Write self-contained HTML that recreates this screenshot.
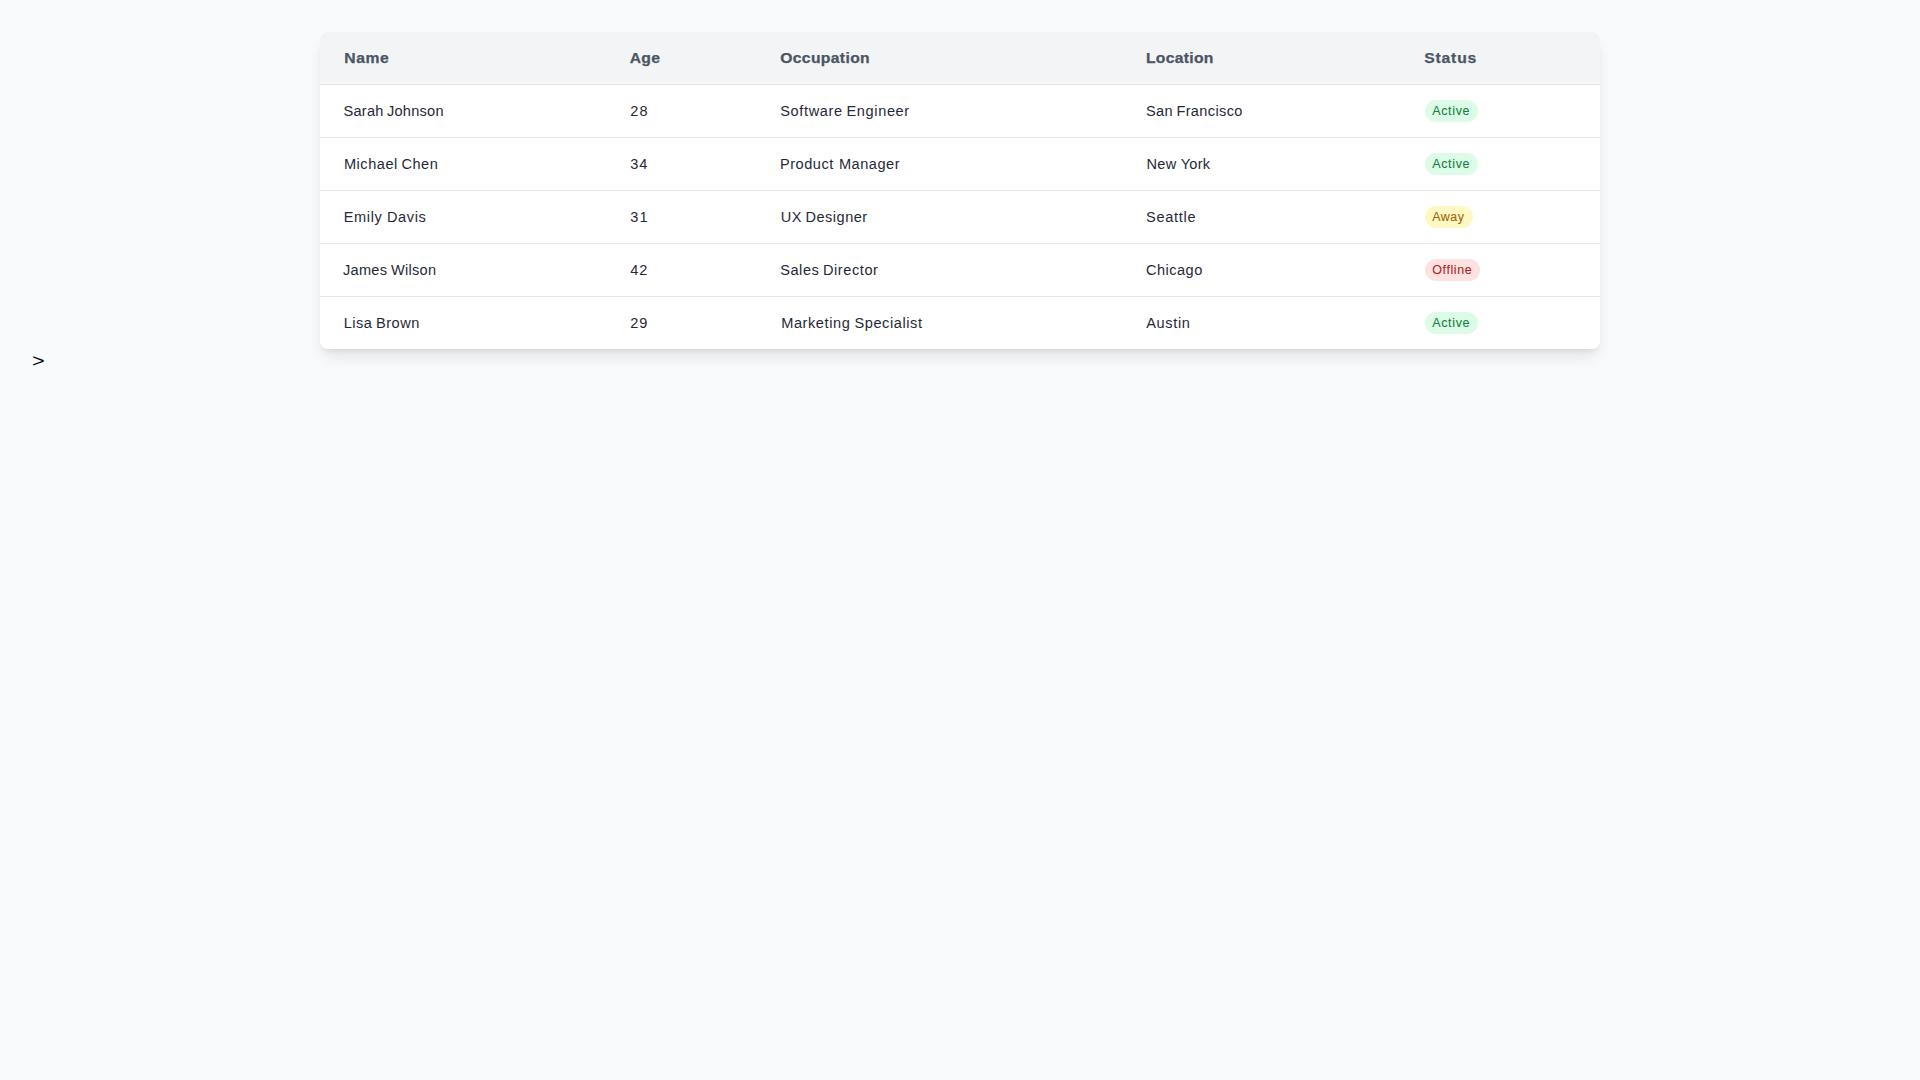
<!DOCTYPE html>
<html lang="en">
<head>
<meta charset="utf-8">
<title>Users</title>
<style>
*{box-sizing:border-box;margin:0;padding:0}
html{font-family:"Liberation Sans",sans-serif;line-height:1.5}
body{width:1920px;height:1080px;overflow:hidden;background:#f9fafb;padding:32px;font-family:"Liberation Sans",sans-serif;font-size:16px;color:#000}
.wrap{width:1280px;margin:0 auto}
.card{background:#fff;border-radius:8px;box-shadow:0 10px 15px -3px rgba(0,0,0,.1),0 4px 6px -4px rgba(0,0,0,.1);overflow:hidden}
table{width:1280px;border-collapse:separate;border-spacing:0;table-layout:fixed}
th{height:53px;padding:0 24px;background:#f3f4f6;border-bottom:1px solid #e5e7eb;text-align:left;vertical-align:middle;font-size:14px;line-height:20px;font-weight:700;color:#4b5563;white-space:nowrap}
td{height:52px;padding:0 24px;vertical-align:middle;font-size:14px;line-height:20px;color:#1f2937;white-space:nowrap}
tbody tr+tr td{height:53px;border-top:1px solid #e5e7eb}
.b{display:inline-block;height:22px;padding:0 0 0 8px;font-size:12px;line-height:22px;border-radius:11px;vertical-align:middle;overflow:hidden}
.g{background:#dcfce7;color:#15803d;width:53px}
.y{background:#fef9c3;color:#a16207;width:48px}
.r{background:#fee2e2;color:#b91c1c;width:55px}
.gt{display:block;height:24px;line-height:24px}
th>.t{display:inline-block;white-space:nowrap;transform-origin:0 50%;-webkit-text-stroke:0.25px currentColor}
td>.t{display:inline-block;white-space:nowrap;transform-origin:0 50%}
.b>.t{display:inline-block;white-space:nowrap;transform-origin:0 50%;-webkit-text-stroke:0.08px currentColor}
</style>
</head>
<body>
<div class="wrap">
<div class="card">
<table>
<colgroup>
<col style="width:286px">
<col style="width:151px">
<col style="width:366px">
<col style="width:278px">
<col style="width:199px">
</colgroup>
<thead>
<tr>
<th><span class="t" style="letter-spacing:0.531px;transform:translateX(0.25px) scaleX(1.12)">Name</span></th>
<th><span class="t" style="letter-spacing:0.327px;transform:translateX(-0.325px) scaleX(1.12)">Age</span></th>
<th><span class="t" style="letter-spacing:0.323px;transform:translateX(-0.81px) scaleX(1.12)">Occupation</span></th>
<th><span class="t" style="letter-spacing:0.259px;transform:translateX(-1px) scaleX(1.12)">Location</span></th>
<th><span class="t" style="letter-spacing:0.721px;transform:translateX(-0.7px) scaleX(1.12)">Status</span></th>
</tr>
</thead>
<tbody>
<tr>
<td><span class="t" style="letter-spacing:0.251px;word-spacing:-1px;transform:translateX(-0.5px) scaleX(1.04)">Sarah Johnson</span></td>
<td><span class="t" style="letter-spacing:1.084px;transform:translateX(0.3px) scaleX(1.04)">28</span></td>
<td><span class="t" style="letter-spacing:0.617px;word-spacing:-1px;transform:translateX(-0.81px) scaleX(1.04)">Software Engineer</span></td>
<td><span class="t" style="letter-spacing:0.354px;word-spacing:-1px;transform:translateX(-1px) scaleX(1.04)">San Francisco</span></td>
<td><span class="b g"><span class="t" style="letter-spacing:0.65px;transform:translateX(-0.825px) scaleX(1.04)">Active</span></span></td>
</tr>
<tr>
<td><span class="t" style="letter-spacing:0.522px;word-spacing:-1px;transform:translateX(-0.125px) scaleX(1.04)">Michael Chen</span></td>
<td><span class="t" style="letter-spacing:0.843px;transform:translateX(0.175px) scaleX(1.04)">34</span></td>
<td><span class="t" style="letter-spacing:0.499px;word-spacing:0.5px;transform:translateX(-1px) scaleX(1.04)">Product Manager</span></td>
<td><span class="t" style="letter-spacing:0.287px;transform:translateX(-0.455px) scaleX(1.04)">New York</span></td>
<td><span class="b g"><span class="t" style="letter-spacing:0.65px;transform:translateX(-0.825px) scaleX(1.04)">Active</span></span></td>
</tr>
<tr>
<td><span class="t" style="letter-spacing:0.58px;transform:translateX(-0.25px) scaleX(1.04)">Emily Davis</span></td>
<td><span class="t" style="letter-spacing:1.084px;transform:translateX(0.3px) scaleX(1.04)">31</span></td>
<td><span class="t" style="letter-spacing:0.48px;word-spacing:-1px;transform:translateX(-0.31px) scaleX(1.04)">UX Designer</span></td>
<td><span class="t" style="letter-spacing:0.677px;transform:translateX(-1px) scaleX(1.04)">Seattle</span></td>
<td><span class="b y"><span class="t" style="letter-spacing:0.463px;transform:translateX(-0.825px) scaleX(1.04)">Away</span></span></td>
</tr>
<tr>
<td><span class="t" style="letter-spacing:0.253px;word-spacing:-0.5px;transform:translateX(-1px) scaleX(1.04)">James Wilson</span></td>
<td><span class="t" style="letter-spacing:0.843px;transform:translateX(0.3px) scaleX(1.04)">42</span></td>
<td><span class="t" style="letter-spacing:0.54px;word-spacing:-1px;transform:translateX(-0.81px) scaleX(1.04)">Sales Director</span></td>
<td><span class="t" style="letter-spacing:0.457px;transform:translateX(-1px) scaleX(1.04)">Chicago</span></td>
<td><span class="b r"><span class="t" style="letter-spacing:0.565px;transform:translateX(-0.7px) scaleX(1.04)">Offline</span></span></td>
</tr>
<tr>
<td><span class="t" style="letter-spacing:0.505px;word-spacing:-1px;transform:translateX(-0.375px) scaleX(1.04)">Lisa Brown</span></td>
<td><span class="t" style="letter-spacing:0.843px;transform:translateX(0.175px) scaleX(1.04)">29</span></td>
<td><span class="t" style="letter-spacing:0.56px;word-spacing:-0.5px;transform:translateX(0.19px) scaleX(1.04)">Marketing Specialist</span></td>
<td><span class="t" style="letter-spacing:0.629px;transform:translateX(-0.83px) scaleX(1.04)">Austin</span></td>
<td><span class="b g"><span class="t" style="letter-spacing:0.65px;transform:translateX(-0.825px) scaleX(1.04)">Active</span></span></td>
</tr>
</tbody>
</table>
</div>
</div>
<span class="gt" style="font-size:18px"><span style="display:inline-block;transform-origin:0 50%;transform:scaleX(1.2)">&gt;</span></span>
</body>
</html>
